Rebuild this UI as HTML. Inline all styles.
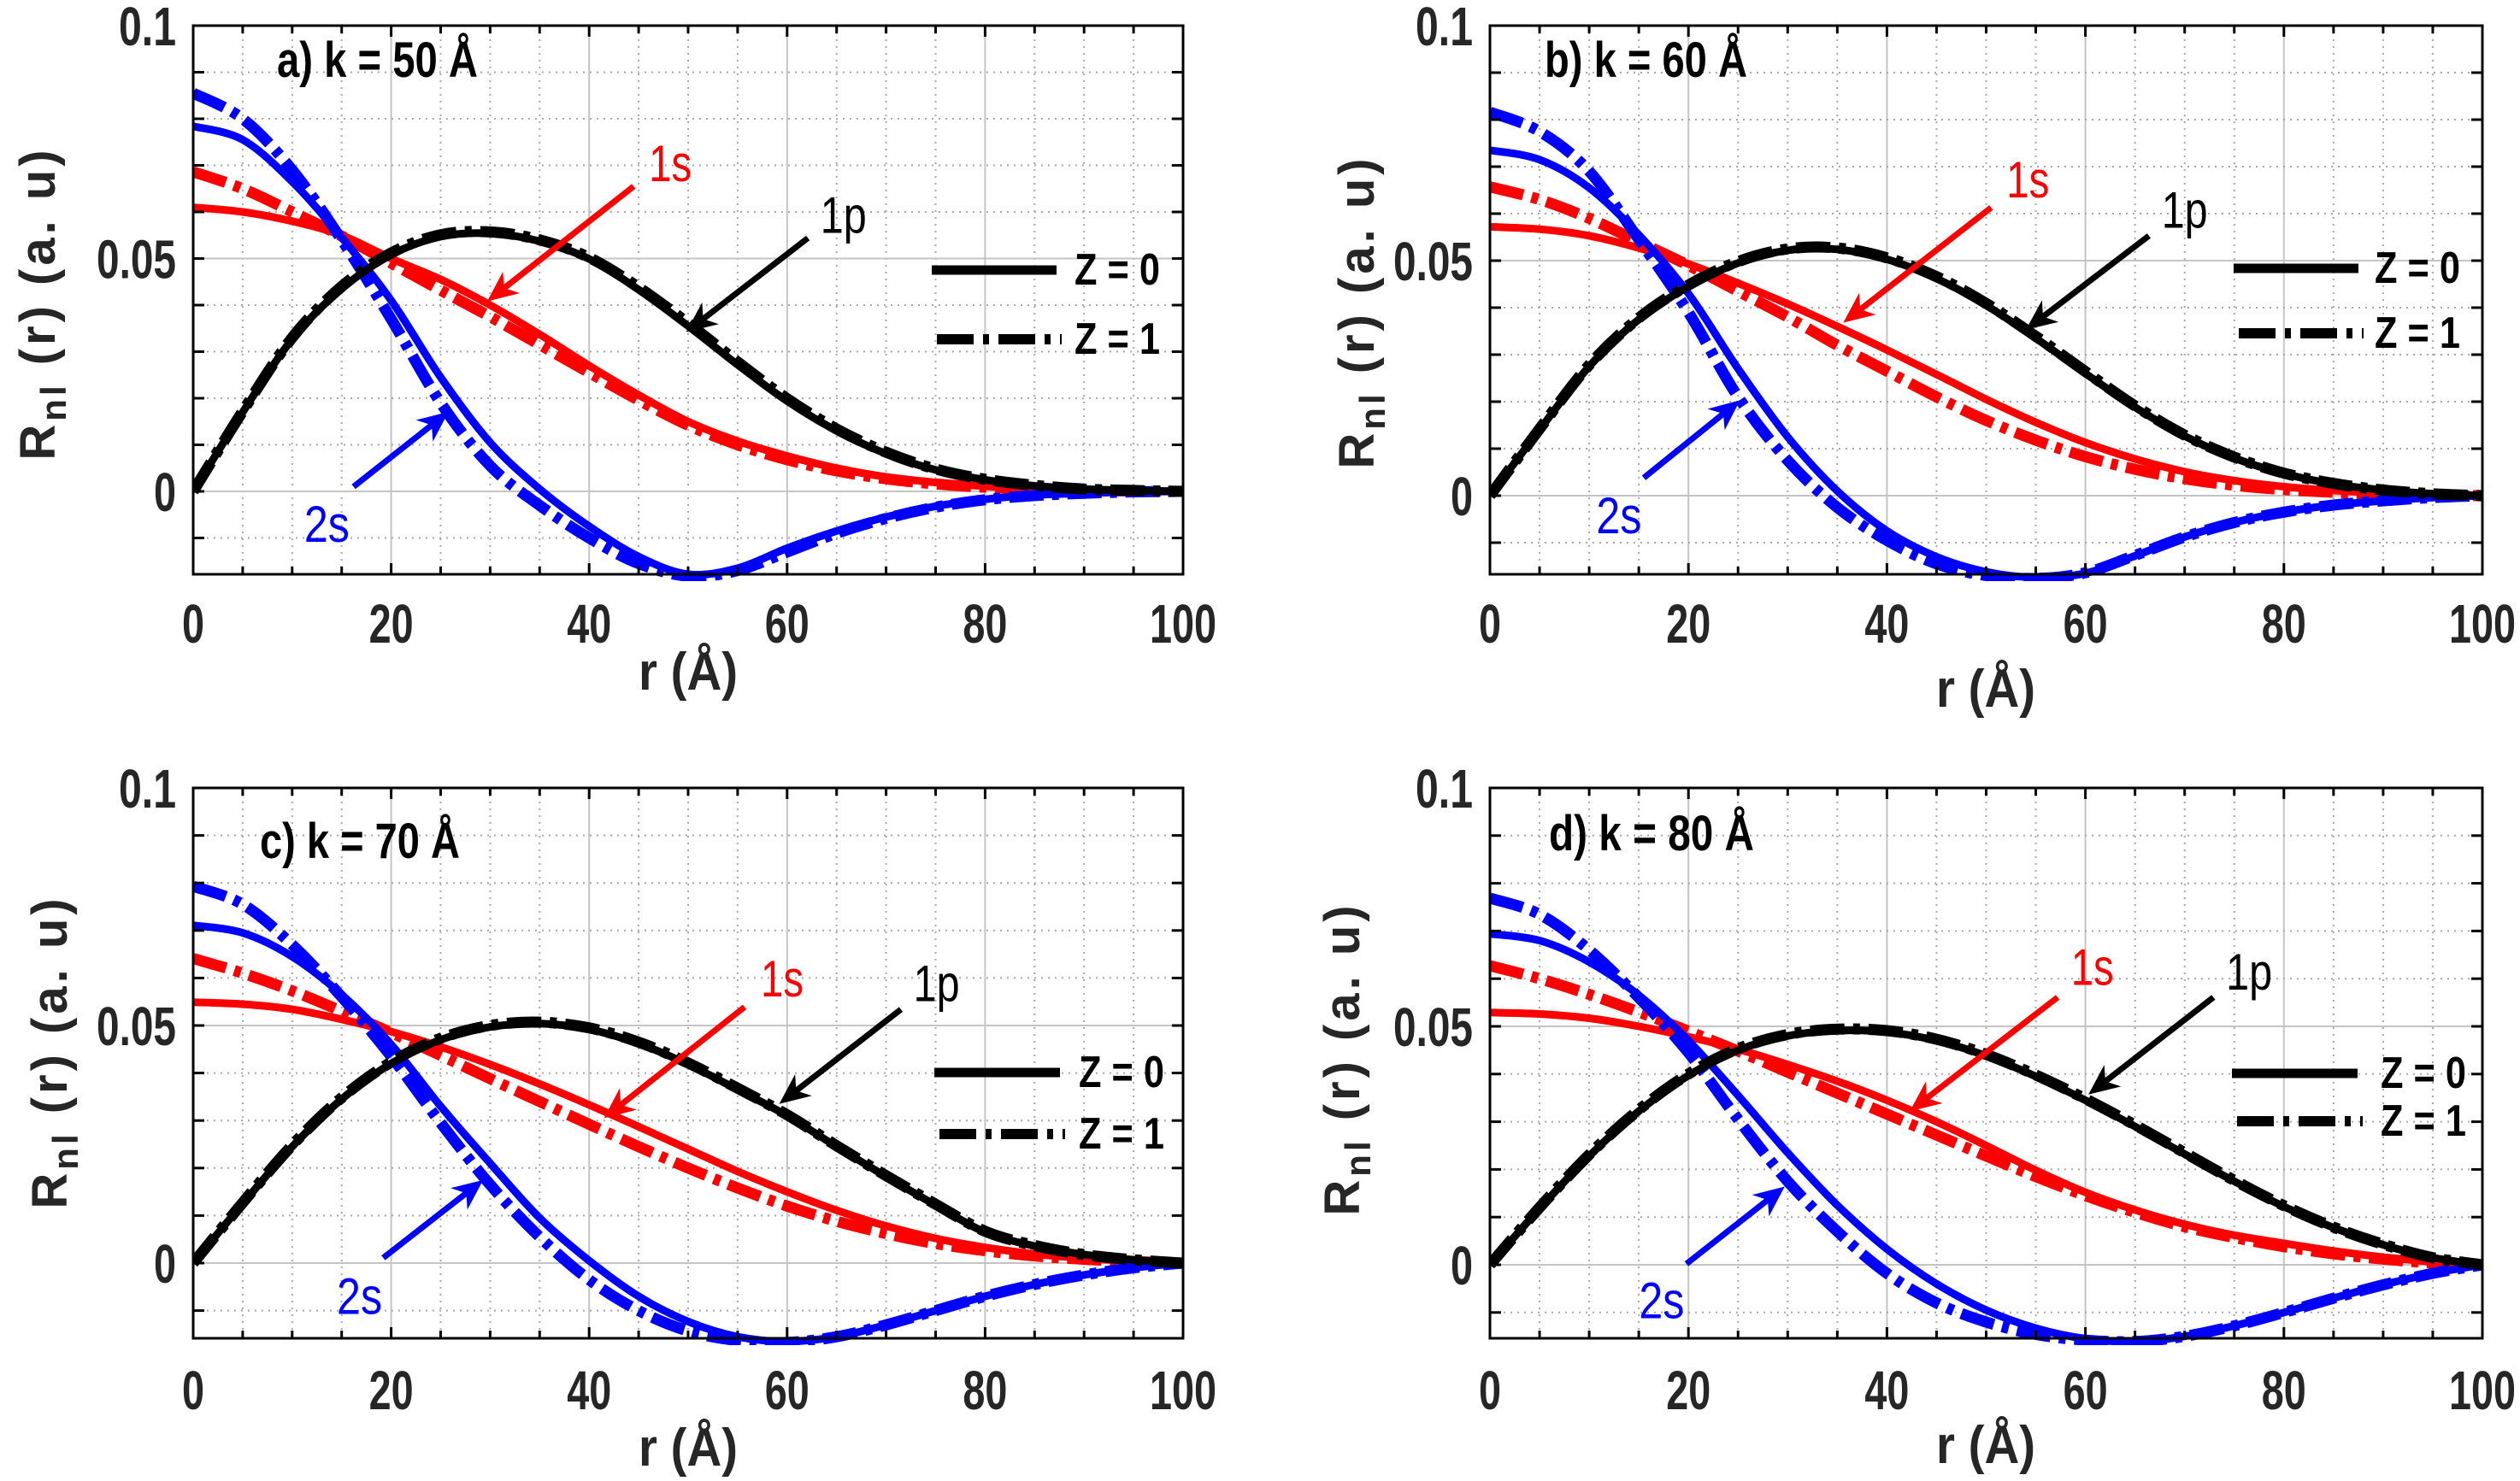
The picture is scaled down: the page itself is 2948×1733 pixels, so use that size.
<!DOCTYPE html>
<html><head><meta charset="utf-8"><style>
html,body{margin:0;padding:0;background:#fff;}
svg{display:block;}
</style></head><body>
<svg id="fig" xmlns="http://www.w3.org/2000/svg" width="2948" height="1733" viewBox="0 0 2948 1733"></svg>
<script>
// ---- data (r grid, 5 Å steps) ----
const rGrid = [0,5,10,15,20,25,30,35,40,45,50,55,60,65,70,75,80,85,90,95,100];
const panelLabels = ["a) k = 50 Å","b) k = 60 Å","c) k = 70 Å","d) k = 80 Å"];
const xTicks = [0,20,40,60,80,100];
const yTickVals = [0,0.05,0.1];
const yTickText = ["0","0.05","0.1"];
const legendText = ["Z = 0","Z = 1"];

// panel a
const a1sZ0 = [.061,.060,.058,.055,.050,.0455,.040,.0337,.027,.0207,.015,.0108,.0076,.0050,.0031,.0019,.0011,.0006,.0003,.0001,0];
const a1sZ1 = [.0686,.065,.060,.0548,.049,.0432,.0375,.0315,.0255,.0196,.0142,.0100,.0068,.0044,.0027,.0016,.0009,.0005,.0002,.0001,0];
const a1pZ0 = [0,.017,.0327,.0435,.0508,.0547,.0554,.0537,.0499,.0433,.0355,.0272,.0194,.0130,.0081,.0046,.0025,.0012,.0005,.0002,0];
const a1pZ1 = [0,.0172,.033,.0440,.0512,.0551,.0557,.0540,.0502,.0438,.0361,.0278,.0199,.0134,.0084,.0048,.0026,.0013,.0005,.0002,0];
const a2sZ0 = [.0784,.0755,.0665,.0545,.041,.0245,.0105,.0005,-.0075,-.0140,-.0178,-.0165,-.0122,-.0085,-.0055,-.0032,-.0017,-.0008,-.0004,-.0001,0];
const a2sZ1 = [.0855,.080,.069,.054,.037,.019,.0055,-.0030,-.0100,-.0155,-.0182,-.0170,-.0130,-.0090,-.0058,-.0034,-.0018,-.0009,-.0004,-.0001,0];
// panel b
const b1sZ0 = [.0572,.0567,.0553,.0527,.0493,.0452,.0408,.036,.031,.0258,.0205,.0156,.0113,.0078,.0051,.0032,.0019,.0011,.0006,.0002,0];
const b1sZ1 = [.0657,.063,.059,.054,.049,.0435,.038,.032,.0265,.021,.016,.0118,.0083,.0056,.0036,.0022,.0013,.0007,.0003,.0001,0];
const b1pZ0 = [0,.014,.0275,.0375,.0445,.0495,.0522,.0524,.0503,.0462,.0405,.0335,.026,.0188,.0127,.0080,.0047,.0025,.0012,.0004,0];
const b1pZ1 = [0,.0142,.0278,.0378,.0448,.0498,.0525,.0527,.0506,.0466,.0409,.0339,.0264,.0191,.0129,.0082,.0048,.0026,.0012,.0004,0];
const b2sZ0 = [.0735,.0715,.0655,.0555,.0430,.0270,.0125,.0010,-.0075,-.0130,-.0162,-.0174,-.0165,-.0128,-.0088,-.0057,-.0035,-.0020,-.0011,-.0004,0];
const b2sZ1 = [.0816,.0775,.0690,.0545,.0390,.0210,.0075,-.0025,-.0095,-.0145,-.0170,-.0176,-.0164,-.0127,-.0088,-.0057,-.0035,-.0020,-.0011,-.0004,0];
// panel c
const c1sZ0 = [.0549,.0545,.0534,.0513,.0487,.0455,.0418,.0377,.0333,.0287,.0240,.0193,.0150,.0111,.0078,.0052,.0033,.0019,.0010,.0004,0];
const c1sZ1 = [.0641,.0610,.0573,.0530,.0485,.0437,.0388,.0340,.0292,.0245,.0200,.0158,.0120,.0088,.0062,.0041,.0026,.0015,.0008,.0003,0];
const c1pZ0 = [0,.0125,.0245,.0345,.0420,.0470,.0497,.0504,.0492,.0462,.0418,.0365,.0310,.0245,.0182,.0122,.0065,.0036,.0018,.0007,0];
const c1pZ1 = [0,.0127,.0248,.0348,.0423,.0473,.0500,.0507,.0495,.0465,.0421,.0368,.0312,.0247,.0184,.0124,.0067,.0037,.0018,.0007,0];
const c2sZ0 = [.0711,.0695,.0645,.0565,.0460,.0330,.0210,.0095,.0005,-.0070,-.0123,-.0155,-.0165,-.0155,-.0130,-.0100,-.0070,-.0045,-.0025,-.0010,0];
const c2sZ1 = [.0793,.0755,.0670,.0560,.0435,.0295,.0165,.0055,-.0035,-.0100,-.0143,-.0163,-.0167,-.0155,-.0130,-.0100,-.0070,-.0045,-.0025,-.0010,0];
// panel d
const d1sZ0 = [.0529,.0526,.0517,.0500,.0478,.0452,.0420,.0385,.0345,.0300,.0250,.0198,.0152,.0115,.0085,.0062,.0045,.0029,.0016,.0006,0];
const d1sZ1 = [.0627,.0600,.0567,.0530,.0490,.0448,.0404,.0360,.0316,.0272,.0228,.0185,.0145,.0110,.0080,.0057,.0038,.0023,.0012,.0004,0];
const d1pZ0 = [0,.0118,.0228,.0322,.0397,.0450,.0480,.0491,.0488,.0470,.0438,.0395,.0345,.0290,.0232,.0175,.0122,.0078,.0042,.0015,0];
const d1pZ1 = [0,.0120,.0231,.0325,.0400,.0453,.0483,.0494,.0491,.0473,.0441,.0398,.0348,.0293,.0235,.0177,.0124,.0079,.0043,.0015,0];
const d2sZ0 = [.0694,.0680,.0635,.0565,.0470,.0355,.0235,.0125,.0033,-.0040,-.0095,-.0133,-.0155,-.0161,-.0150,-.0128,-.0100,-.0070,-.0042,-.0018,0];
const d2sZ1 = [.0769,.0735,.0660,.0560,.0445,.0305,.0175,.0070,-.0018,-.0080,-.0120,-.0146,-.0158,-.0161,-.0150,-.0128,-.0100,-.0070,-.0042,-.0018,0];

// annotation anchors in data coords: [tailR, tailV, headR, headV, textR, textV]
const arrow1s = [[44.5,.0655,29.7,.0408,48.2,.0705],[50.5,.0613,35.6,.0368,54.2,.0673],[55.7,.0539,41.5,.0305,59.5,.0599],[57.2,.0561,42.3,.0322,60.7,.0625]];
const arrow1p = [[62.1,.0544,49.8,.0342,65.7,.0594],[66.4,.0553,54.0,.0353,70.0,.0608],[71.5,.0534,59.2,.0335,75.1,.0589],[72.9,.0561,60.3,.0357,76.5,.0615]];
const arrow2s = [[16.2,.0010,25.8,.0171,13.5,-.0070],[15.5,.0038,25.2,.0203,13.0,-.0042],[19.2,.0011,29.3,.0175,16.8,-.0069],[19.8,.0002,29.7,.0164,17.3,-.0074]];

const series = [
 [a1sZ0,a1sZ1,a2sZ0,a2sZ1,a1pZ0,a1pZ1],
 [b1sZ0,b1sZ1,b2sZ0,b2sZ1,b1pZ0,b1pZ1],
 [c1sZ0,c1sZ1,c2sZ0,c2sZ1,c1pZ0,c1pZ1],
 [d1sZ0,d1sZ1,d2sZ0,d2sZ1,d1pZ0,d1pZ1]
];
const seriesNames = ["1s-z0","1s-z1","2s-z0","2s-z1","1p-z0","1p-z1"];
const seriesColors = ["#ff0000","#ff0000","#0000ff","#0000ff","#000000","#000000"];

// ---- layout ----
const panels = [
 {L:226,R:1384,T:30,B:672,y0:575, title:[324,69,235], xtY:729, xl:[805,785], yl:[43,355], leg:[1090,1236,1257,316,397]},
 {L:1743,R:2904,T:30,B:672,y0:580, title:[1807,69,237], xtY:729, xl:[2323,805], yl:[1586,365], leg:[2613,2759,2778,314,390]},
 {L:226,R:1384,T:922,B:1566,y0:1478, title:[304,983,234], xtY:1626, xl:[805,1693], yl:[57,1231], leg:[1093,1240,1262,1255,1327]},
 {L:1743,R:2904,T:922,B:1566,y0:1480, title:[1812,974,240], xtY:1626, xl:[2323,1690], yl:[1569,1239], leg:[2611,2758,2785,1256,1312]}
];
const NS="http://www.w3.org/2000/svg";
const svg=document.getElementById('fig');
function mk(tag,attrs,parent){const e=document.createElementNS(NS,tag);for(const k in attrs)e.setAttribute(k,attrs[k]);(parent||svg).appendChild(e);return e;}
function smoothPath(pts){
  let d=`M${pts[0][0].toFixed(1)},${pts[0][1].toFixed(1)}`;
  for(let i=0;i<pts.length-1;i++){
    const p0=pts[i-1]||pts[i],p1=pts[i],p2=pts[i+1],p3=pts[i+2]||p2;
    const c1=[p1[0]+(p2[0]-p0[0])/6,p1[1]+(p2[1]-p0[1])/6];
    const c2=[p2[0]-(p3[0]-p1[0])/6,p2[1]-(p3[1]-p1[1])/6];
    d+=` C${c1[0].toFixed(1)},${c1[1].toFixed(1)} ${c2[0].toFixed(1)},${c2[1].toFixed(1)} ${p2[0].toFixed(1)},${p2[1].toFixed(1)}`;
  }
  return d;
}
function tlen(s){let n=0;for(const ch of s){n+=(ch==='.')?15:26;}return n;}

panels.forEach((P,pi)=>{
  const g=mk('g',{});
  
  
  const sx=r=>P.L+(r/100)*(P.R-P.L);
  const sy=v=>P.y0-(v/0.1)*(P.y0-P.T);
  // grid
  const grid=mk('g',{},g);
  
  
  for(let r=5;r<100;r+=5){
    const major=(r%20===0);
    mk('line',{x1:sx(r),x2:sx(r),y1:P.T,y2:P.B,stroke:major?'#c4c4c4':'#a8a8a8','stroke-width':2,'stroke-dasharray':major?'none':'2 6'},grid);
  }
  for(let k=-1;k<=9;k++){
    const v=k*0.01; if(sy(v)>P.B)continue;
    const major=(k===0||k===5);
    mk('line',{x1:P.L,x2:P.R,y1:sy(v),y2:sy(v),stroke:major?'#c4c4c4':'#a8a8a8','stroke-width':2,'stroke-dasharray':major?'none':'2 6'},grid);
  }
  // curves
  const clip=mk('clipPath',{id:'clip'+pi},g);
  mk('rect',{x:P.L,y:P.T,width:P.R-P.L,height:P.B-P.T+8},clip);
  const cg=mk('g',{'clip-path':`url(#clip${pi})`},g);
  series[pi].forEach((vals,si)=>{
    const pts=rGrid.map((r,i)=>[sx(r),sy(vals[i])]);
    const dashed=(si%2===1);
    const p=mk('path',{d:smoothPath(pts),fill:'none',stroke:seriesColors[si],'stroke-width':dashed?13:9,'stroke-dasharray':dashed?'40 10 8 10':'none','stroke-linejoin':'round'},cg);
    
    
  });
  // box
  const box=mk('rect',{x:P.L,y:P.T,width:P.R-P.L,height:P.B-P.T,fill:'none',stroke:'#000','stroke-width':3},g);
  
  
  // ticks
  for(let r=5;r<100;r+=5){
    const len=(r%20===0)?13:9;
    mk('line',{x1:sx(r),x2:sx(r),y1:P.B,y2:P.B-len,stroke:'#000','stroke-width':3},g);
    mk('line',{x1:sx(r),x2:sx(r),y1:P.T,y2:P.T+len,stroke:'#000','stroke-width':3},g);
  }
  for(let k=-1;k<=9;k++){
    const y=sy(k*0.01); if(y>P.B)continue;
    mk('line',{x1:P.L,x2:P.L+13,y1:y,y2:y,stroke:'#000','stroke-width':3},g);
    mk('line',{x1:P.R,x2:P.R-13,y1:y,y2:y,stroke:'#000','stroke-width':3},g);
  }
  // tick labels
  xTicks.forEach(t=>{
    const s=String(t);
    const e=mk('text',{x:sx(t),y:P.xtY+23,'text-anchor':'middle','font-family':'"Liberation Sans",sans-serif','font-weight':'bold','font-size':64,fill:'#262626',textLength:tlen(s),lengthAdjust:'spacingAndGlyphs'},g);
    e.textContent=s;
    
    
  });
  yTickVals.forEach((v,i)=>{
    const s=yTickText[i];
    const e=mk('text',{x:P.L-20,y:sy(v)+23,'text-anchor':'end','font-family':'"Liberation Sans",sans-serif','font-weight':'bold','font-size':64,fill:'#262626',textLength:tlen(s),lengthAdjust:'spacingAndGlyphs'},g);
    e.textContent=s;
    
    
  });
  // axis titles
  const xt=mk('text',{x:P.xl[0],y:P.xl[1]+22,'text-anchor':'middle','font-family':'"Liberation Sans",sans-serif','font-weight':'bold','font-size':62,fill:'#262626',textLength:116,lengthAdjust:'spacingAndGlyphs'},g);
  xt.textContent='r (Å)';
  
  
  const yt=mk('text',{x:0,y:0,'text-anchor':'middle','font-family':'"Liberation Sans",sans-serif','font-weight':'bold','font-size':58,fill:'#262626','letter-spacing':4,transform:`translate(${P.yl[0]+21},${P.yl[1]}) rotate(-90)`},g);
  
  
  const t1=mk('tspan',{},yt);t1.textContent='R';
  const t2=mk('tspan',{dy:13,'font-size':42},yt);t2.textContent='nl';
  const t3=mk('tspan',{dy:-13,'xml:space':'preserve'},yt);t3.textContent='  (r)  (a. u)';
  // title
  const tt=mk('text',{x:P.title[0],y:P.title[1]+21,'font-family':'"Liberation Sans",sans-serif','font-weight':'bold','font-size':58,fill:'#000',textLength:P.title[2],lengthAdjust:'spacingAndGlyphs'},g);
  tt.textContent=panelLabels[pi];
  
  
  // legend
  const lg=mk('g',{},g);
  
  
  const L=P.leg;
  mk('line',{x1:L[0],x2:L[1],y1:L[3],y2:L[3],stroke:'#000','stroke-width':11},lg);
  mk('line',{x1:L[0]+6,x2:L[1]+6,y1:L[4],y2:L[4],stroke:'#000','stroke-width':12,'stroke-dasharray':'43 11 7 11'},lg);
  [0,1].forEach(j=>{
    const e=mk('text',{x:L[2],y:(j?L[4]:L[3])+17,'font-family':'"Liberation Sans",sans-serif','font-weight':'bold','font-size':52,fill:'#000',textLength:100,lengthAdjust:'spacingAndGlyphs'},lg);
    e.textContent=legendText[j];
    
    
  });
  // arrows
  const arrs=[[arrow1s[pi],'#ff0000','1s',50],[arrow1p[pi],'#000000','1p',54],[arrow2s[pi],'#0000ff','2s',53]];
  arrs.forEach(([A,col,lab,tl])=>{
    const ag=mk('g',{},g);
    
    
    const x1=sx(A[0]),y1=sy(A[1]),x2=sx(A[2]),y2=sy(A[3]);
    const dx=x2-x1,dy=y2-y1,len=Math.hypot(dx,dy),ux=dx/len,uy=dy/len,nx=-uy,ny=ux;
    const hl=36,hw=16;
    const bx=x2-ux*hl,by=y2-uy*hl;
    mk('line',{x1:x1,y1:y1,x2:x2-ux*10,y2:y2-uy*10,stroke:col,'stroke-width':7},ag);
    mk('polygon',{points:`${x2},${y2} ${bx+nx*hw},${by+ny*hw} ${x2-ux*hl*0.7},${y2-uy*hl*0.7} ${bx-nx*hw},${by-ny*hw}`,fill:col},ag);
    const tx=mk('text',{x:sx(A[4]),y:sy(A[5])+21,'text-anchor':'middle','font-family':'"Liberation Sans",sans-serif','font-size':60,fill:col,textLength:tl,lengthAdjust:'spacingAndGlyphs'},ag);
    tx.textContent=lab;
  });
});
</script>
</body></html>
